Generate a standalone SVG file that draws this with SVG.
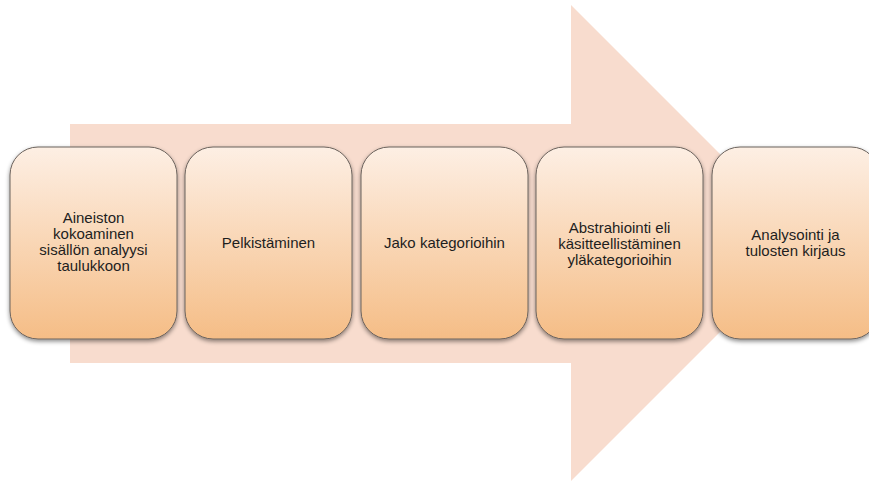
<svg xmlns="http://www.w3.org/2000/svg" width="869" height="484" viewBox="0 0 869 484">
<defs>
<linearGradient id="g" x1="0" y1="0" x2="0" y2="1">
<stop offset="0" stop-color="#fdefe4"/>
<stop offset="1" stop-color="#f5bd86"/>
</linearGradient>
<filter id="sh" x="-10%" y="-10%" width="120%" height="125%">
<feDropShadow dx="0" dy="2" stdDeviation="2" flood-color="#000" flood-opacity="0.45"/>
</filter>
</defs>
<style>
.box{fill:url(#g);stroke:#6b625c;stroke-width:1;filter:url(#sh)}
.t{font-family:"Liberation Sans",Arial,sans-serif;font-size:15px;fill:#1e1e1e;text-anchor:middle}
</style>
<rect width="869" height="484" fill="#fff"/>
<g id="arrow">
<polygon points="70,124 571,124 571,5 809,243 571,481 571,363 70,363" fill="#f8dcce"/>
</g>
<g id="connectors"/>
<g id="n1">
<rect class="box" x="10" y="147" width="167" height="192" rx="28"/>
<text class="t" x="93.5" y="223">Aineiston</text>
<text class="t" x="93.5" y="239">kokoaminen</text>
<text class="t" x="93.5" y="255">sisällön analyysi</text>
<text class="t" x="93.5" y="271">taulukkoon</text>
</g>
<g id="n2">
<rect class="box" x="185" y="147" width="167" height="192" rx="28"/>
<text class="t" x="268.5" y="248">Pelkistäminen</text>
</g>
<g id="n3">
<rect class="box" x="361" y="147" width="167" height="192" rx="28"/>
<text class="t" x="444.5" y="248">Jako kategorioihin</text>
</g>
<g id="n4">
<rect class="box" x="536" y="147" width="167" height="192" rx="28"/>
<text class="t" x="619.5" y="233">Abstrahiointi eli</text>
<text class="t" x="619.5" y="249">käsitteellistäminen</text>
<text class="t" x="619.5" y="265">yläkategorioihin</text>
</g>
<g id="n5">
<rect class="box" x="712" y="147" width="167" height="192" rx="28"/>
<text class="t" x="795.5" y="240">Analysointi ja</text>
<text class="t" x="795.5" y="256">tulosten kirjaus</text>
</g>
</svg>
